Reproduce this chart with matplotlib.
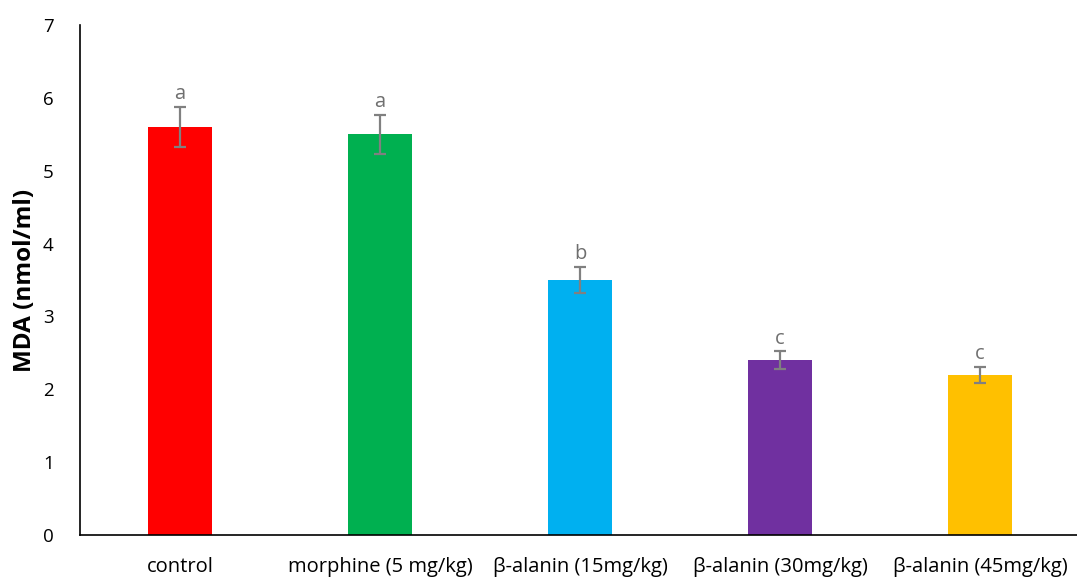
import numpy as np
import matplotlib.pyplot as plt

groups = ['control', 'morphine (5 mg/kg)', 'β-alanin (15mg/kg)',
          'β-alanin (30mg/kg)', 'β-alanin (45mg/kg)']
mda = [5.6, 5.5, 3.5, 2.4, 2.2]
err = [0.28, 0.27, 0.18, 0.12, 0.11]
letters = ['a', 'a', 'b', 'c', 'c']
colors = ['#FF0000', '#00B050', '#00B0F0', '#7030A0', '#FFC000']

plt.rcParams['font.family'] = ['Open Sans', 'DejaVu Sans']

fig = plt.figure(figsize=(10.77, 5.77), dpi=100)
ax = fig.add_axes([80 / 1077, 42 / 577, 1000 / 1077, 510 / 577])

x = np.arange(len(groups))
ax.bar(x, mda, width=0.32, color=colors)
ax.errorbar(x, mda, yerr=err, fmt='none', ecolor='#808080',
            elinewidth=1.6, capsize=4, capthick=1.6)

for xi, v, e, t in zip(x, mda, err, letters):
    ax.annotate(t, (xi, v + e), xytext=(0, 2), textcoords='offset points',
                ha='center', va='bottom', fontsize=14.5, color='#6f6f6f')

ax.set_xlim(-0.5, 4.5)
ax.set_ylim(0, 7)
ax.set_yticks(range(8))
ax.set_xticks(x)
ax.set_xticklabels(groups, fontsize=14.5)
ax.tick_params(axis='both', length=0)
ax.tick_params(axis='y', labelsize=13.5, pad=19)
ax.tick_params(axis='x', pad=16)
ax.spines['top'].set_visible(False)
ax.spines['right'].set_visible(False)
ax.spines['left'].set_linewidth(1.2)
ax.spines['bottom'].set_linewidth(1.2)
ax.set_ylabel('MDA (nmol/ml)', fontsize=17.5, fontweight='bold', labelpad=4)

fig.savefig('out.png', dpi=100)
